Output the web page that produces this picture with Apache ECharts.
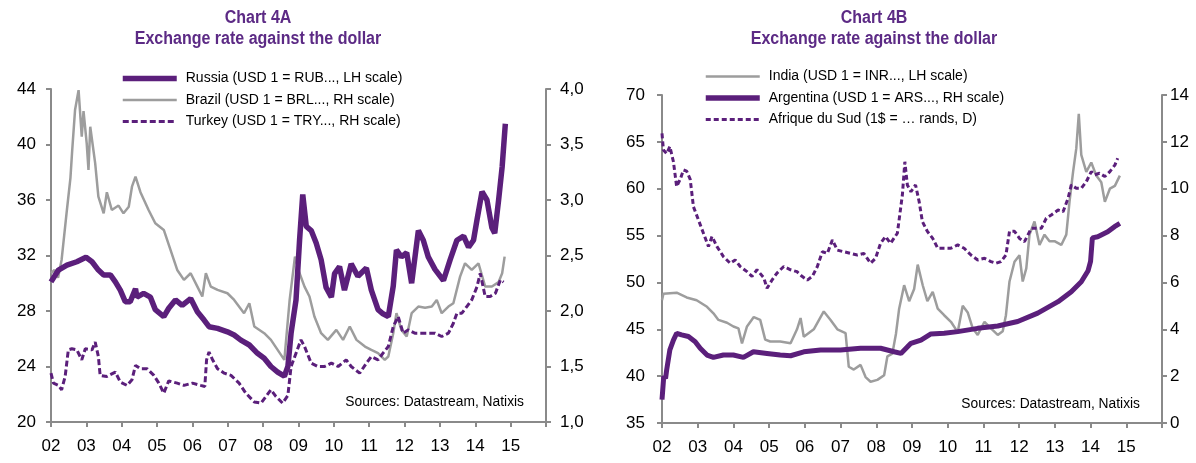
<!DOCTYPE html>
<html>
<head>
<meta charset="utf-8">
<script src="https://cdn.jsdelivr.net/npm/echarts@6/dist/echarts.min.js"></script>
<style>
html,body{margin:0;padding:0;background:#fff;}
#c{width:1196px;height:463px;}
</style>
</head>
<body>
<div id="c"></div>
<script>
// ---------- DATA ----------
var xLabelYears = [2002,2003,2004,2005,2006,2007,2008,2009,2010,2011,2012,2013,2014,2015];

// Chart 4A
var russia = [[2002.0,30.1],[2002.21,30.95],[2002.45,31.3],[2002.73,31.55],[2002.99,31.87],[2003.16,31.55],[2003.34,30.95],[2003.49,30.6],[2003.68,30.6],[2003.82,30.1],[2003.96,29.5],[2004.1,28.67],[2004.24,28.67],[2004.39,29.6],[2004.43,29.0],[2004.62,29.27],[2004.81,29.0],[2004.95,28.1],[2005.19,27.6],[2005.33,28.2],[2005.52,28.8],[2005.71,28.4],[2005.95,28.9],[2006.14,27.95],[2006.33,27.35],[2006.47,26.87],[2006.71,26.75],[2006.99,26.5],[2007.18,26.27],[2007.37,25.9],[2007.61,25.55],[2007.84,24.95],[2008.03,24.6],[2008.22,24.0],[2008.41,23.6],[2008.6,23.3],[2008.7,24.0],[2008.79,26.4],[2008.93,28.8],[2009.03,33.1],[2009.12,36.4],[2009.22,34.1],[2009.36,33.8],[2009.5,32.9],[2009.64,31.7],[2009.78,29.7],[2009.93,29.0],[2010.02,30.7],[2010.16,31.2],[2010.30,29.5],[2010.49,31.4],[2010.68,30.5],[2010.92,31.1],[2011.06,29.5],[2011.25,28.1],[2011.39,27.8],[2011.54,27.6],[2011.68,29.8],[2011.77,32.4],[2011.91,31.9],[2012.06,32.2],[2012.2,30.0],[2012.39,33.8],[2012.53,33.1],[2012.67,31.9],[2012.86,31.0],[2013.1,30.2],[2013.29,31.7],[2013.48,33.1],[2013.67,33.4],[2013.81,32.6],[2013.95,33.1],[2014.05,34.6],[2014.19,36.6],[2014.33,36.0],[2014.47,34.0],[2014.55,33.6],[2014.66,36.0],[2014.76,38.4],[2014.85,41.5]];
var brazil = [[2002.0,2.34],[2002.1,2.37],[2002.2,2.30],[2002.3,2.46],[2002.45,2.91],[2002.55,3.2],[2002.6,3.45],[2002.68,3.81],[2002.78,3.99],[2002.87,3.57],[2002.92,3.8],[2003.01,3.51],[2003.06,3.27],[2003.11,3.66],[2003.25,3.33],[2003.34,3.03],[2003.49,2.88],[2003.58,3.07],[2003.72,2.91],[2003.91,2.95],[2004.05,2.88],[2004.2,2.94],[2004.29,3.12],[2004.39,3.21],[2004.53,3.07],[2004.76,2.91],[2004.95,2.79],[2005.19,2.73],[2005.38,2.55],[2005.57,2.37],[2005.76,2.28],[2005.95,2.34],[2006.14,2.22],[2006.28,2.13],[2006.38,2.34],[2006.52,2.22],[2006.71,2.19],[2006.99,2.16],[2007.18,2.1],[2007.46,1.98],[2007.61,2.07],[2007.75,1.86],[2008.03,1.8],[2008.22,1.74],[2008.41,1.65],[2008.6,1.56],[2008.75,2.1],[2008.9,2.49],[2009.03,2.34],[2009.17,2.22],[2009.31,2.13],[2009.45,1.95],[2009.64,1.8],[2009.83,1.74],[2010.07,1.83],[2010.26,1.74],[2010.45,1.86],[2010.64,1.74],[2010.88,1.68],[2011.06,1.65],[2011.25,1.62],[2011.44,1.56],[2011.54,1.59],[2011.68,1.8],[2011.77,1.98],[2011.91,1.83],[2012.06,1.77],[2012.2,1.98],[2012.39,2.04],[2012.58,2.03],[2012.77,2.04],[2012.91,2.10],[2013.05,1.98],[2013.24,2.04],[2013.38,2.07],[2013.57,2.31],[2013.71,2.43],[2013.9,2.37],[2014.09,2.43],[2014.28,2.22],[2014.47,2.22],[2014.66,2.26],[2014.76,2.34],[2014.83,2.49]];
var turkey = [[2002.0,1.44],[2002.07,1.35],[2002.21,1.33],[2002.3,1.29],[2002.4,1.41],[2002.49,1.65],[2002.59,1.66],[2002.73,1.65],[2002.87,1.56],[2002.97,1.66],[2003.16,1.65],[2003.25,1.72],[2003.34,1.59],[2003.39,1.42],[2003.58,1.41],[2003.82,1.45],[2003.96,1.36],[2004.15,1.33],[2004.29,1.38],[2004.39,1.51],[2004.53,1.48],[2004.72,1.48],[2004.91,1.42],[2005.05,1.35],[2005.19,1.26],[2005.33,1.37],[2005.57,1.35],[2005.76,1.33],[2006.0,1.35],[2006.23,1.33],[2006.35,1.32],[2006.4,1.56],[2006.47,1.63],[2006.57,1.56],[2006.71,1.48],[2006.9,1.44],[2007.09,1.42],[2007.32,1.35],[2007.51,1.26],[2007.75,1.18],[2007.94,1.17],[2008.08,1.23],[2008.22,1.29],[2008.36,1.23],[2008.55,1.17],[2008.7,1.24],[2008.79,1.5],[2008.93,1.62],[2009.07,1.74],[2009.17,1.68],[2009.36,1.53],[2009.55,1.50],[2009.74,1.50],[2009.93,1.53],[2010.12,1.50],[2010.35,1.56],[2010.49,1.50],[2010.73,1.44],[2010.92,1.53],[2011.06,1.59],[2011.25,1.56],[2011.39,1.62],[2011.54,1.68],[2011.68,1.86],[2011.82,1.95],[2011.96,1.80],[2012.1,1.83],[2012.29,1.80],[2012.48,1.80],[2012.67,1.80],[2012.86,1.80],[2013.05,1.77],[2013.24,1.80],[2013.38,1.89],[2013.48,1.98],[2013.62,1.98],[2013.76,2.04],[2013.9,2.10],[2014.05,2.22],[2014.14,2.34],[2014.28,2.13],[2014.42,2.13],[2014.57,2.16],[2014.71,2.28],[2014.8,2.26]];

// Chart 4B
var india = [[2002.0,48.1],[2002.04,48.8],[2002.41,48.9],[2002.69,48.4],[2002.97,48.1],[2003.26,47.4],[2003.44,46.7],[2003.58,46.0],[2003.82,45.7],[2004.0,45.3],[2004.14,45.1],[2004.24,43.5],[2004.38,45.3],[2004.57,46.3],[2004.75,46.0],[2004.89,43.9],[2005.03,43.7],[2005.31,43.7],[2005.6,43.5],[2005.78,45.0],[2005.88,46.2],[2005.97,44.2],[2006.25,45.0],[2006.44,46.3],[2006.53,46.9],[2006.72,46.0],[2006.91,45.0],[2007.14,44.6],[2007.23,41.0],[2007.37,40.7],[2007.56,41.2],[2007.7,39.9],[2007.84,39.4],[2008.03,39.6],[2008.22,40.1],[2008.31,42.1],[2008.45,42.4],[2008.55,44.5],[2008.64,47.2],[2008.78,49.7],[2008.92,48.0],[2009.06,49.3],[2009.16,51.9],[2009.3,49.7],[2009.43,48.0],[2009.58,49.0],[2009.72,47.2],[2009.9,46.5],[2010.09,45.8],[2010.28,44.7],[2010.42,47.5],[2010.56,46.8],[2010.7,45.1],[2010.84,44.4],[2011.03,45.8],[2011.21,45.1],[2011.4,44.4],[2011.54,44.8],[2011.63,46.5],[2011.73,50.1],[2011.87,52.2],[2012.01,52.9],[2012.1,50.1],[2012.2,51.5],[2012.29,55.1],[2012.43,56.5],[2012.57,54.0],[2012.71,55.1],[2012.85,54.4],[2012.99,54.4],[2013.18,54.0],[2013.32,55.1],[2013.41,58.6],[2013.51,61.8],[2013.6,64.3],[2013.67,68.0],[2013.74,63.6],[2013.88,61.8],[2014.02,62.8],[2014.16,61.4],[2014.3,60.7],[2014.4,58.6],[2014.54,60.0],[2014.68,60.3],[2014.82,61.4]];
var argentina = [[2002.0,1.0],[2002.02,1.4],[2002.05,2.0],[2002.1,1.9],[2002.13,2.26],[2002.22,3.12],[2002.32,3.54],[2002.41,3.83],[2002.55,3.76],[2002.74,3.69],[2002.93,3.47],[2003.07,3.19],[2003.26,2.9],[2003.44,2.8],[2003.72,2.9],[2004.0,2.9],[2004.28,2.8],[2004.56,3.04],[2004.94,2.97],[2005.31,2.9],[2005.6,2.87],[2005.97,3.04],[2006.44,3.12],[2007.0,3.12],[2007.56,3.19],[2008.12,3.19],[2008.5,3.04],[2008.69,2.97],[2008.97,3.4],[2009.25,3.54],[2009.53,3.8],[2009.9,3.83],[2010.28,3.9],[2010.84,4.04],[2011.4,4.14],[2011.96,4.33],[2012.52,4.69],[2013.09,5.18],[2013.46,5.6],[2013.74,6.03],[2013.93,6.5],[2014.0,6.9],[2014.05,7.9],[2014.2,7.95],[2014.48,8.16],[2014.67,8.38],[2014.82,8.52]];
var southAfrica = [[2002.0,12.36],[2002.04,11.65],[2002.13,11.5],[2002.22,11.8],[2002.32,11.15],[2002.41,10.09],[2002.51,10.4],[2002.6,10.8],[2002.69,10.75],[2002.79,10.4],[2002.88,9.23],[2003.02,8.67],[2003.16,8.1],[2003.3,7.53],[2003.4,7.96],[2003.54,7.53],[2003.72,7.1],[2003.91,6.82],[2004.05,6.96],[2004.19,6.68],[2004.38,6.46],[2004.52,6.26],[2004.66,6.54],[2004.85,6.2],[2004.94,5.75],[2005.08,6.1],[2005.22,6.4],[2005.41,6.68],[2005.6,6.54],[2005.78,6.46],[2005.92,6.26],[2006.07,6.1],[2006.21,6.26],[2006.35,6.68],[2006.49,7.31],[2006.63,7.24],[2006.77,7.81],[2006.91,7.38],[2007.09,7.31],[2007.28,7.24],[2007.47,7.17],[2007.65,7.24],[2007.84,6.82],[2007.98,7.03],[2008.12,7.67],[2008.26,7.96],[2008.4,7.67],[2008.59,8.1],[2008.73,9.73],[2008.8,11.15],[2008.87,10.16],[2008.97,9.87],[2009.1,10.16],[2009.2,9.45],[2009.29,8.6],[2009.43,8.18],[2009.58,7.88],[2009.72,7.46],[2009.9,7.46],[2010.09,7.46],[2010.28,7.6],[2010.46,7.46],[2010.65,7.17],[2010.84,6.96],[2011.03,7.03],[2011.21,6.89],[2011.35,6.82],[2011.49,6.89],[2011.63,7.17],[2011.73,8.18],[2011.87,8.18],[2012.01,7.88],[2012.15,7.74],[2012.34,8.31],[2012.48,8.31],[2012.62,8.31],[2012.76,8.74],[2012.9,8.88],[2013.09,9.09],[2013.23,9.02],[2013.37,9.59],[2013.46,10.16],[2013.6,10.02],[2013.74,10.02],[2013.88,10.3],[2014.02,10.73],[2014.11,10.59],[2014.25,10.66],[2014.4,10.52],[2014.54,10.73],[2014.68,11.01],[2014.76,11.3]];

var names4A = ['Russia (USD 1 = RUB..., LH scale)', 'Brazil (USD 1 = BRL..., RH scale)', 'Turkey (USD 1 = TRY..., RH scale)'];
var names4B = ['India (USD 1 = INR..., LH scale)', 'Argentina (USD 1 = ARS..., RH scale)', 'Afrique du Sud (1$ = \u2026 rands, D)'];
var titles = ['Chart 4A', 'Chart 4B'];
var subtitle = 'Exchange rate against the dollar';
var sourceText = 'Sources: Datastream, Natixis';

// ---------- STYLE ----------
var PURPLE = '#5b1f7b';
var TITLE = '#5c2a85';
var GRAY = '#9d9d9d';
var AXIS = '#8a8a8a';
var FONT = "'Liberation Sans', Arial, sans-serif";
var W_THICK = 5.5, W_GRAY = 2.5, W_DASH = 3;

function xAxis(gi) {
  return {
    type: 'value', gridIndex: gi, min: 2002, max: 2016, interval: 1,
    axisLine: { onZero: false, lineStyle: { color: AXIS, width: 2 } },
    axisTick: { show: true, length: 5, lineStyle: { color: AXIS, width: 2 } },
    splitLine: { show: false },
    axisLabel: {
      color: '#000', fontSize: 17, fontFamily: FONT, margin: 16,
      formatter: function (v) { return xLabelYears.indexOf(v) >= 0 ? String(v).slice(2) : ''; }
    }
  };
}
function yAxis(gi, pos, min, max, interval, fmt, margin) {
  return {
    type: 'value', gridIndex: gi, position: pos, min: min, max: max, interval: interval,
    axisLine: { show: true, lineStyle: { color: AXIS, width: 2 } },
    axisTick: { show: true, length: 5, lineStyle: { color: AXIS, width: 2 } },
    splitLine: { show: false },
    axisLabel: { color: '#000', fontSize: 17, fontFamily: FONT, margin: margin, formatter: fmt }
  };
}
var comma = function (v) { return v.toFixed(1).replace('.', ','); };
var plain = function (v) { return String(v); };

function legend(left, top, names, widths) {
  return {
    data: names.map(function (n, i) { return { name: n, lineStyle: { width: widths[i] } }; }),
    orient: 'vertical', left: left, top: top, padding: 0,
    itemWidth: 54, itemHeight: 14, itemGap: 6.5,
    itemStyle: { opacity: 0 },
    textStyle: { color: '#000', fontSize: 14, fontFamily: FONT, lineHeight: 15, padding: [0, 0, 0, 4] },
    selectedMode: false
  };
}
function titleText(x, y, text) {
  return { type: 'text', x: x, y: y, scaleX: 0.915,
    style: { text: text, font: 'bold 17.5px ' + FONT, fill: TITLE, align: 'center', verticalAlign: 'middle' } };
}

var option = {
  animation: false,
  backgroundColor: '#fff',
  grid: [
    { left: 51, right: 650, top: 89, bottom: 41 },
    { left: 662, right: 34, top: 95, bottom: 40 }
  ],
  xAxis: [xAxis(0), xAxis(1)],
  yAxis: [
    yAxis(0, 'left', 20, 44, 4, plain, 15),
    yAxis(0, 'right', 1, 4, 0.5, comma, 14),
    yAxis(1, 'left', 35, 70, 5, plain, 17),
    yAxis(1, 'right', 0, 14, 2, plain, 8)
  ],
  legend: [
    legend(120, 71, names4A, [W_THICK, W_GRAY, W_DASH]),
    legend(703, 69, names4B, [W_GRAY, W_THICK, W_DASH])
  ],
  graphic: [
    titleText(258, 18, titles[0]),
    titleText(258, 39, subtitle),
    titleText(874, 18, titles[1]),
    titleText(874, 39, subtitle),
    { type: 'text', x: 524, y: 402, style: { text: sourceText, font: '13.8px ' + FONT, fill: '#000', align: 'right', verticalAlign: 'middle' } },
    { type: 'text', x: 1140, y: 404, style: { text: sourceText, font: '13.8px ' + FONT, fill: '#000', align: 'right', verticalAlign: 'middle' } }
  ],
  series: [
    { name: names4A[1], type: 'line', xAxisIndex: 0, yAxisIndex: 1, data: brazil, symbol: 'none', z: 2,
      lineStyle: { color: GRAY, width: W_GRAY }, itemStyle: { color: GRAY } },
    { name: names4A[2], type: 'line', xAxisIndex: 0, yAxisIndex: 1, data: turkey, symbol: 'none', z: 3,
      lineStyle: { color: PURPLE, width: W_DASH, type: [6, 3] }, itemStyle: { color: PURPLE } },
    { name: names4A[0], type: 'line', xAxisIndex: 0, yAxisIndex: 0, data: russia, symbol: 'none', z: 4,
      lineStyle: { color: PURPLE, width: W_THICK }, itemStyle: { color: PURPLE } },
    { name: names4B[0], type: 'line', xAxisIndex: 1, yAxisIndex: 2, data: india, symbol: 'none', z: 2,
      lineStyle: { color: GRAY, width: W_GRAY }, itemStyle: { color: GRAY } },
    { name: names4B[1], type: 'line', xAxisIndex: 1, yAxisIndex: 3, data: argentina, symbol: 'none', z: 4,
      lineStyle: { color: PURPLE, width: 5 }, itemStyle: { color: PURPLE } },
    { name: names4B[2], type: 'line', xAxisIndex: 1, yAxisIndex: 3, data: southAfrica, symbol: 'none', z: 3,
      lineStyle: { color: PURPLE, width: W_DASH, type: [5, 3] }, itemStyle: { color: PURPLE } }
  ]
};

var chart = echarts.init(document.getElementById('c'), null, { renderer: 'canvas', width: 1196, height: 463 });
chart.setOption(option);
</script>
</body>
</html>
